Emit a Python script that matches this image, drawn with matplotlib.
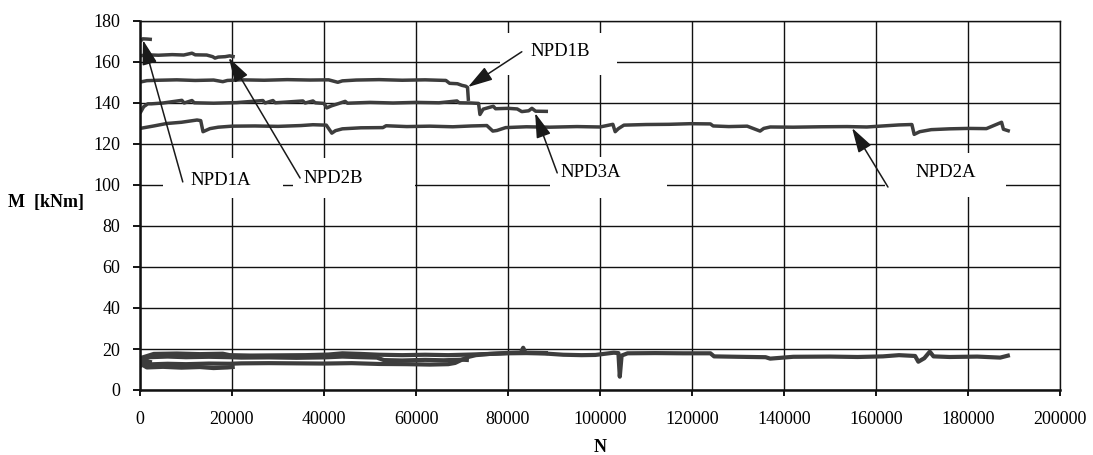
import matplotlib
matplotlib.use("Agg")
import matplotlib.pyplot as plt
from matplotlib.patches import Rectangle

# ---- measured bending moment M [kNm] against number of cycles N ----
# maximum moment per specimen
npd1a_n = [0, 600, 1500, 2600]
npd1a_m = [170.0, 171.3, 171.2, 171.0]

npd2b_n = [0, 1500, 4000, 7000, 9500, 11300, 12000, 14500, 15800, 16300, 17000, 18500, 19500, 20600]
npd2b_m = [163.0, 163.5, 163.3, 163.6, 163.4, 164.3, 163.5, 163.4, 162.6, 161.9, 162.4, 162.6, 163.0, 162.5]

npd1b_n = [0, 1500, 4000, 8000, 12000, 16000, 18000, 19000, 22000, 27000, 32000, 37000, 41000,
           43000, 44000, 47000, 52000, 57000, 62000, 66500, 67300, 69000, 70000, 70800, 71200, 71400]
npd1b_m = [150.2, 150.9, 151.1, 151.3, 151.0, 151.2, 150.4, 151.0, 151.3, 151.1, 151.4, 151.2, 151.3,
           150.1, 150.8, 151.2, 151.4, 151.1, 151.3, 151.0, 149.6, 149.4, 148.6, 148.2, 147.6, 141.0]

npd3a_n = [0, 800, 1700, 2500, 5000, 9100, 9600, 11300, 11800, 16000, 21000, 26700, 27200, 28900,
           29400, 35400, 35900, 37600, 38100, 40000, 40600, 41600, 43000, 44600, 45100, 50000, 55000,
           60000, 65000, 68900, 69400, 72000, 73600, 73900, 74600, 76800, 77300, 80000, 82000, 83000,
           84500, 85200, 86000, 88700]
npd3a_m = [135.0, 138.2, 139.6, 139.6, 140.0, 141.3, 140.0, 141.2, 140.1, 139.9, 140.2, 141.2, 140.0, 141.2,
           140.1, 141.0, 140.0, 141.0, 140.1, 139.8, 137.6, 138.6, 139.6, 140.8, 139.9, 140.3, 140.0,
           140.3, 140.1, 141.0, 140.1, 140.0, 139.8, 134.4, 137.0, 138.4, 137.2, 137.4, 137.1, 135.8,
           136.2, 137.4, 136.0, 135.9]

npd2a_n = [0, 3000, 5800, 9000, 12400, 13200, 13700, 15200, 17000, 20000, 25000, 30000, 35000, 37600,
           40500, 41700, 42500, 44000, 48000, 52800, 53500, 58000, 63000, 68000, 72000, 75400, 76700,
           77600, 79500, 84000, 89000, 95000, 100000, 102800, 103300, 104000, 105200, 110000, 115000,
           119600, 124000, 124600, 128000, 132000, 134800, 135600, 137000, 142000, 148000, 153700,
           158000, 165000, 167800, 168300, 169500, 172000, 176000, 180000, 184000, 187300, 187700, 189100]
npd2a_m = [127.6, 128.8, 130.0, 130.6, 131.7, 131.4, 126.0, 127.5, 128.2, 128.7, 128.8, 128.6, 129.0, 129.4,
           129.2, 125.3, 126.5, 127.4, 127.9, 128.0, 128.9, 128.5, 128.7, 128.4, 128.8, 129.0, 126.3,
           126.6, 128.0, 128.4, 128.2, 128.5, 128.3, 129.6, 126.0, 127.5, 129.2, 129.5, 129.6,
           129.9, 129.8, 128.8, 128.5, 128.7, 126.3, 127.6, 128.3, 128.2, 128.4, 128.5,
           128.3, 129.3, 129.5, 124.7, 126.0, 127.0, 127.4, 127.6, 127.5, 130.6, 127.2, 126.2]

# minimum moment per specimen
npd1a_min_n = [0, 1300, 2600]
npd1a_min_m = [11.5, 14.0, 13.5]

npd2b_min_n = [0, 1500, 5000, 9000, 13000, 16000, 19000, 20600]
npd2b_min_m = [13.0, 11.0, 11.3, 10.9, 11.2, 10.7, 11.0, 11.3]

npd1b_min_n = [0, 2000, 6000, 10000, 15000, 19500, 22000, 28000, 34000, 40000, 44000, 48000, 51500,
               53000, 57000, 62000, 66000, 70000, 71500]
npd1b_min_m = [14.0, 16.0, 16.3, 16.0, 16.2, 16.0, 15.8, 15.9, 15.7, 15.9, 16.3, 16.0, 15.8,
               14.6, 14.4, 14.7, 14.5, 14.8, 14.6]

npd3a_min_n = [0, 2000, 6000, 10000, 15000, 19500, 22000, 28000, 34000, 40000, 46000, 52000, 58000,
               63000, 67000, 68500, 70000, 71500, 73000, 76000, 80000, 82800, 83300, 83800, 88700]
npd3a_min_m = [14.0, 12.5, 12.8, 12.6, 12.9, 12.8, 13.0, 13.1, 13.0, 12.9, 13.1, 12.7, 12.6,
               12.4, 12.6, 13.2, 14.8, 16.2, 17.0, 17.6, 18.1, 18.3, 20.6, 18.2, 18.0]

npd2a_min_n = [0, 3000, 8000, 13000, 18000, 19500, 24000, 30000, 36000, 41000, 44000, 48000, 52000,
               57000, 62000, 67000, 72000, 76000, 80000, 84000, 88000, 92000, 96000, 99000, 103000,
               104000, 104300, 104700, 106000, 112000, 118000, 124000, 124800, 130000, 136000, 137000,
               142000, 150000, 156000, 161500, 165000, 168500, 169200, 170500, 171700, 172500, 176000,
               182000, 187000, 189100]
npd2a_min_m = [15.5, 17.6, 17.8, 17.5, 17.7, 17.0, 16.8, 16.9, 17.0, 17.3, 17.9, 17.6, 17.2,
               17.0, 17.2, 17.0, 17.3, 17.6, 17.9, 18.0, 17.8, 17.2, 17.0, 17.1, 18.2,
               18.0, 6.5, 16.8, 17.9, 18.0, 17.9, 17.9, 16.4, 16.2, 16.0, 15.3,
               16.2, 16.3, 16.1, 16.4, 17.0, 16.6, 13.8, 15.5, 18.7, 16.4, 16.1,
               16.3, 15.8, 17.0]

max_series = [(npd1a_n, npd1a_m), (npd2b_n, npd2b_m), (npd1b_n, npd1b_m),
              (npd3a_n, npd3a_m), (npd2a_n, npd2a_m)]
min_series = [(npd1a_min_n, npd1a_min_m), (npd2b_min_n, npd2b_min_m), (npd1b_min_n, npd1b_min_m),
              (npd3a_min_n, npd3a_min_m), (npd2a_min_n, npd2a_min_m)]

x_ticks = [0, 20000, 40000, 60000, 80000, 100000, 120000, 140000, 160000, 180000, 200000]
y_ticks = [0, 20, 40, 60, 80, 100, 120, 140, 160, 180]

# label text, text anchor (N, M), arrow tail, arrow head, white box (N0, N1, M0, M1)
labels = ["NPD1A", "NPD2B", "NPD1B", "NPD3A", "NPD2A"]
label_pos = [(10900, 102.4), (35600, 103.4), (84800, 164.9), (91300, 105.9), (168500, 105.9)]
arrow_tail = [(9300, 101.5), (34800, 103.4), (83000, 165.0), (90700, 105.9), (162600, 99.0)]
arrow_head = [(650, 170.7), (19300, 162.1), (71300, 147.8), (85900, 135.1), (154800, 127.8)]
label_box = [(5000, 31100, 93.7, 113.2), (33300, 59800, 93.7, 113.2), (78300, 103700, 153.7, 174.1),
             (89100, 114600, 93.7, 113.7), (162000, 188300, 94.1, 115.6)]

serif = ["Liberation Serif", "DejaVu Serif"]
plt.rcParams["font.family"] = serif

fig = plt.figure(figsize=(10.93, 4.55), dpi=100)
ax = fig.add_axes([140 / 1093, 1 - 390 / 455, 920 / 1093, 369 / 455])

ax.set_xlim(0, 200000)
ax.set_ylim(0, 180)
ax.set_xticks(x_ticks)
ax.set_yticks(y_ticks)
ax.set_xticklabels([str(v) for v in x_ticks])
ax.set_yticklabels([str(v) for v in y_ticks])
ax.tick_params(axis="both", labelsize=13, color="black", width=1.3)
ax.tick_params(axis="y", direction="out", length=5, pad=9)
ax.tick_params(axis="x", direction="out", length=4, pad=11)

ax.set_axisbelow(True)
ax.grid(True, color="#111111", linewidth=1.0)
for name, sp in ax.spines.items():
    sp.set_color("#111111")
    sp.set_linewidth(1.0)
ax.spines["left"].set_linewidth(1.8)
ax.spines["bottom"].set_linewidth(1.8)

# white label boxes interrupting the grid
for (n0, n1, m0, m1) in label_box:
    ax.add_patch(Rectangle((n0, m0), n1 - n0, m1 - m0, facecolor="white",
                           edgecolor="none", zorder=1.5))

for n, m in max_series:
    ax.plot(n, m, color="#3d3d3d", linewidth=2.5, solid_joinstyle="round",
            solid_capstyle="butt", zorder=2)
for n, m in min_series:
    ax.plot(n, m, color="#3d3d3d", linewidth=3.0, solid_joinstyle="round",
            solid_capstyle="butt", zorder=2)

for text, pos, tail, head in zip(labels, label_pos, arrow_tail, arrow_head):
    ax.text(pos[0], pos[1], text, fontsize=13.5, ha="left", va="center", zorder=4)
    ax.annotate("", xy=head, xytext=tail,
                arrowprops=dict(arrowstyle="-|>,head_length=0.8,head_width=0.24",
                                color="#1a1a1a", lw=1.1, shrinkA=0, shrinkB=0,
                                mutation_scale=19),
                zorder=3)

fig.text(8 / 1093, 1 - 202 / 455, "M  [kNm]", fontsize=13, fontweight="bold",
         ha="left", va="center")
fig.text(600 / 1093, 1 - 447 / 455, "N", fontsize=13, fontweight="bold",
         ha="center", va="center")

fig.savefig("out.png", dpi=100)
